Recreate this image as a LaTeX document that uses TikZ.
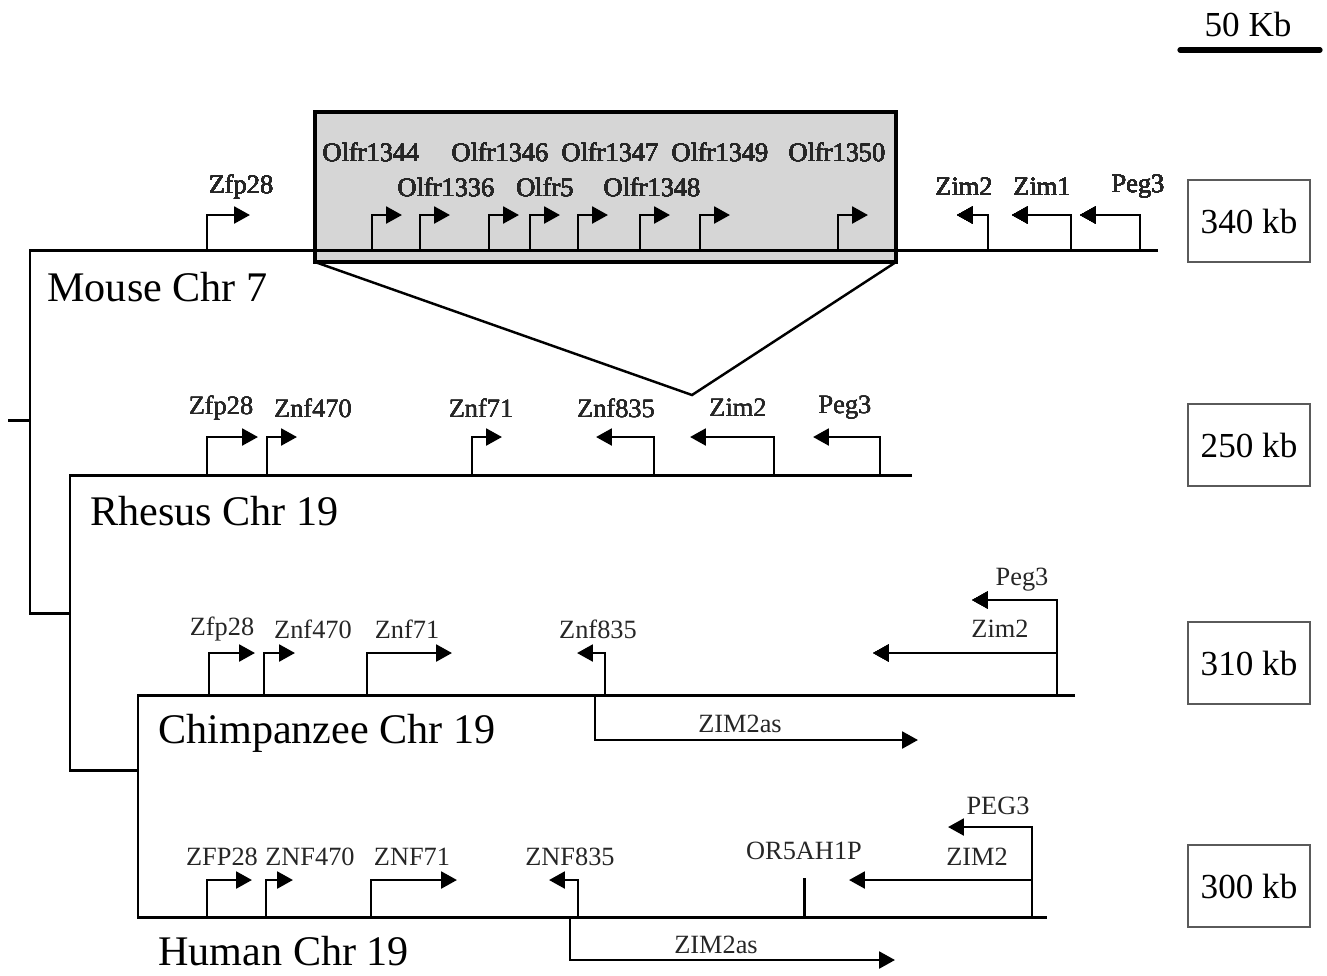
\documentclass[tikz,border=0pt]{standalone}
\usepackage{fontspec}
\setmainfont{Liberation Serif}
\usetikzlibrary{arrows.meta}
\definecolor{boxfill}{HTML}{D6D6D6}
\definecolor{kbline}{HTML}{5A5A5A}
\tikzset{
  chrom/.style={line width=1.7pt},
  gene/.style={line width=1.6pt, -{Triangle[length=9pt,width=9.5pt]}},
  glabel/.style={font=\fontsize{15}{17}\selectfont, inner sep=0pt, text=black!85},
  chrlabel/.style={font=\fontsize{24}{28}\selectfont, anchor=west, inner sep=0pt},
  kbbox/.style={draw=kbline, line width=0.9pt, minimum width=2.44cm, minimum height=1.64cm,
                inner sep=0pt, font=\fontsize{20}{24}\selectfont},
}
% forward / reverse gene: stem x, line y, top y, tip x
\newcommand{\genearrow}[4]{\draw[gene] (#1,#2) |- (#4,#3);}

\begin{document}
\begin{tikzpicture}[x=0.02cm, y=-0.02cm]
  \useasboundingbox (0,0) rectangle (1327,975);
  % scale bar
  \node[font=\fontsize{20}{24}\selectfont, inner sep=0pt] (scale) at (1248,24) {50 Kb};
  \draw[line width=3pt, line cap=round] (1180,50) -- (1320,50);
  % olfr cluster box and its cone
  \draw[line width=2.2pt, fill=boxfill] (315,112) rectangle (896,262);
  \draw[line width=1.4pt] (315,262) -- (692,395) -- (896,262);
  % tree and chromosomes
  \draw[chrom] (8,420) -- (30,420);
  \draw[chrom] (1158,250) -- (30,250) -- (30,613) -- (70,613);
  \draw[chrom] (912,475) -- (70,475) -- (70,770) -- (138,770);
  \draw[chrom] (1075,695) -- (138,695) -- (138,917) -- (1047,917);
  \node[chrlabel] (mouse) at (47,287) {Mouse Chr 7};
  \node[chrlabel] (rhesus) at (90,511) {Rhesus Chr 19};
  \node[chrlabel] (chimp) at (158,733) {Chimpanzee Chr 19};
  \node[chrlabel] (human) at (158,951) {Human Chr 19};
  % mouse genes
  \foreach \s/\t in {207/250, 372/402, 420/450, 489/519, 530/560, 578/608, 640/670, 700/730, 838/868}
    \genearrow{\s}{250}{215}{\t}
  \foreach \s/\t in {988/957, 1071/1012, 1140/1080}
    \genearrow{\s}{250}{215}{\t}
  \foreach \n/\x/\y/\t in {mzfp/241/187/Zfp28, mo44/371/152/Olfr1344, mo46/500/152/Olfr1346,
      mo47/610/152/Olfr1347, mo49/720/152/Olfr1349, mo50/837/152/Olfr1350,
      mo36/446/187/Olfr1336, mo5/545/187/Olfr5, mo48/652/187/Olfr1348,
      mzim2/964/187/Zim2, mzim1/1042/187/Zim1, mpeg/1138/187/Peg3}
    \node[glabel] (\n) at (\x,\y) {\t};
  % rhesus genes
  \foreach \s/\t in {207/258, 267/297, 472/502, 654/596, 774/690, 880/813}
    \genearrow{\s}{475}{437}{\t}
  \foreach \n/\x/\t in {rzfp/221/Zfp28, r470/313/Znf470, r71/481/Znf71,
      r835/616/Znf835, rzim/738/Zim2, rpeg/845/Peg3}
    \node[glabel] (\n) at (\x,408) {\t};
  % chimpanzee genes
  \foreach \s/\t in {209/255, 264/295, 367/452, 605/577}
    \genearrow{\s}{695}{653}{\t}
  \genearrow{1057}{695}{600}{972}
  \draw[gene] (1057,653) -- (873,653);
  \genearrow{595}{695}{740}{918}
  \foreach \n/\x/\y/\t in {czfp/222/629/Zfp28, c470/313/629/Znf470, c71/407/629/Znf71,
      c835/598/629/Znf835, cpeg/1022/580/Peg3, czim/1000/629/Zim2, cas/740/724/ZIM2as}
    \node[glabel] (\n) at (\x,\y) {\t};
  % human genes
  \foreach \s/\t in {207/252, 266/293, 371/457, 578/549}
    \genearrow{\s}{917}{880}{\t}
  \draw[chrom] (804,917) -- (804,878);
  \genearrow{1032}{917}{827}{948}
  \draw[gene] (1032,880) -- (849,880);
  \genearrow{570}{917}{960}{895}
  \foreach \n/\x/\y/\t in {hzfp/222/857/ZFP28, h470/310/857/ZNF470, h71/412/857/ZNF71,
      h835/570/857/ZNF835, hor/804/851/OR5AH1P, hpeg/998/806/PEG3, hzim/977/857/ZIM2,
      has/716/945/ZIM2as}
    \node[glabel] (\n) at (\x,\y) {\t};
  % region sizes
  \node[kbbox] (kbmouse) at (1249,221) {340 kb};
  \node[kbbox] (kbrhesus) at (1249,445) {250 kb};
  \node[kbbox] (kbchimp) at (1249,663) {310 kb};
  \node[kbbox] (kbhuman) at (1249,886) {300 kb};
\end{tikzpicture}
\end{document}
